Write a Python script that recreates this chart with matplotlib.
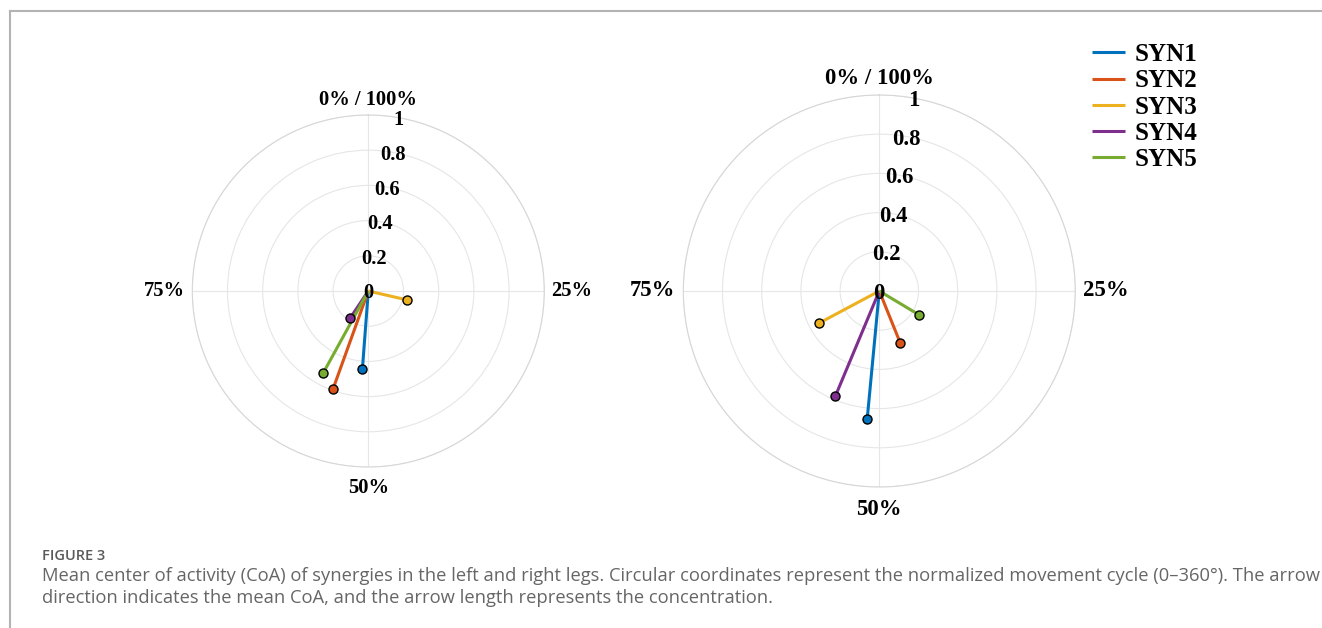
import numpy as np
import matplotlib
matplotlib.use('Agg')
from matplotlib import pyplot as plt
from matplotlib.lines import Line2D

# dados: fase media (% do ciclo) e comprimento do vetor
syn_names = ['SYN1', 'SYN2', 'SYN3', 'SYN4', 'SYN5']
syn_colors = ['#0072BD', '#D95319', '#EDB120', '#7E2F8E', '#77AC30']

left_pct = [51.2, 55.5, 28.6, 59.4, 58.0]
left_len = [0.446, 0.594, 0.226, 0.187, 0.534]

right_pct = [51.5, 43.9, 67.2, 56.3, 33.6]
right_len = [0.655, 0.284, 0.348, 0.581, 0.234]

r_ticks = [0.2, 0.4, 0.6, 0.8, 1.0]
r_labels = ['0', '0.2', '0.4', '0.6', '0.8', '1']
theta_labels = ['0% / 100%', '25%', '50%', '75%']

caption_title = 'FIGURE 3'
caption_lines = [
  'Mean center of activity (CoA) of synergies in the left and right legs. Circular coordinates represent the normalized movement cycle (0\u2013360\u00b0). The arrow',
  'direction indicates the mean CoA, and the arrow length represents the concentration.',
]

serif = ['Liberation Serif', 'DejaVu Serif']

W, H = 1322, 628
fig = plt.figure(figsize=(W/100, H/100), dpi=100)


def polar_panel(cx, cy, rad, pct, length, fs):
  # cx, cy, rad em pixels (y a partir do topo)
  rect = [(cx-rad)/W, (H-cy-rad)/H, 2*rad/W, 2*rad/H]
  ax = fig.add_axes(rect, projection='polar')
  ax.set_theta_zero_location('N')
  ax.set_theta_direction(-1)
  ax.set_ylim(0, 1)
  ax.set_rticks(r_ticks)
  ax.set_yticklabels([])
  ax.set_xticks(np.radians([0, 90, 180, 270]))
  ax.set_xticklabels([])
  ax.tick_params(length=0)
  ax.grid(True, color='#e6e6e6', lw=0.8)
  ax.spines['polar'].set_color('#d6d6d6')
  ax.spines['polar'].set_linewidth(0.8)

  lines = []
  for p, r, c in zip(pct, length, syn_colors):
    th = p/100*2*np.pi
    l, = ax.plot([0, th], [0, r], color=c, lw=2.2, solid_capstyle='butt', zorder=3)
    ax.plot([th], [r], 'o', ms=6.5, mfc=c, mec='black', mew=1.0, zorder=4)
    lines.append(l)

  # rotulos radiais
  for i, lab in enumerate(r_labels):
    ax.text(np.radians(10), i*0.2, lab, ha='center', va='center_baseline',
            fontsize=fs, fontweight='bold', family=serif, zorder=5)

  # rotulos angulares
  tkw = dict(fontsize=fs, fontweight='bold', family=serif, clip_on=False)
  ax.text(0, 1.03, theta_labels[0], ha='center', va='bottom', **tkw)
  ax.text(np.pi/2, 1.04, theta_labels[1], ha='left', va='center', **tkw)
  ax.text(np.pi, 1.06, theta_labels[2], ha='center', va='top', **tkw)
  ax.text(3*np.pi/2, 1.04, theta_labels[3], ha='right', va='center', **tkw)
  return ax, lines


axL, linesL = polar_panel(368.3, 291, 176, left_pct, left_len, 14.8)
axR, linesR = polar_panel(879.3, 291, 196, right_pct, right_len, 16.4)

fig.legend(linesR, syn_names, loc='upper left', bbox_to_anchor=(1092/W, 1-43/H),
           frameon=False, prop={'family': serif, 'weight': 'bold', 'size': 18},
           handlelength=1.3, handletextpad=0.4, labelspacing=0.13,
           borderpad=0, borderaxespad=0)

# moldura do painel
fig.add_artist(Line2D([9.5/W, 1], [1-11/H, 1-11/H], color='#b3b3b3', lw=1.5))
fig.add_artist(Line2D([9.5/W, 9.5/W], [0, 1-11/H], color='#b3b3b3', lw=1.5))

# legenda da figura
cap_font = ['Open Sans', 'DejaVu Sans']
fig.text(42/W, 1-556/H, caption_title, ha='left', va='center', fontsize=10.5,
         fontweight='semibold', color='#5a5a5a', family=cap_font)
fig.text(42/W, 1-576/H, caption_lines[0], ha='left', va='center', fontsize=13.25,
         color='#666666', family=cap_font)
fig.text(42/W, 1-598/H, caption_lines[1], ha='left', va='center', fontsize=13.25,
         color='#666666', family=cap_font)

fig.savefig('out.png', dpi=100)
